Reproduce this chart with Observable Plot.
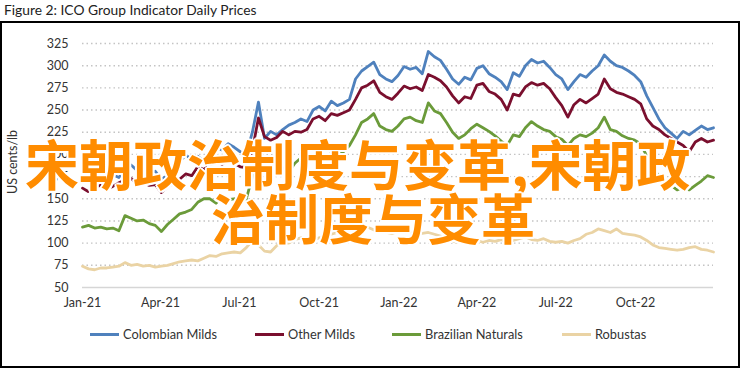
<!DOCTYPE html>
<html>
<head>
<meta charset="utf-8">
<script src="https://cdn.jsdelivr.net/npm/d3@7"></script>
<script src="https://cdn.jsdelivr.net/npm/@observablehq/plot@0.6"></script>
<style>
  html, body { margin: 0; padding: 0; background: #fff; }
  #wrap { position: relative; width: 742px; height: 369px; overflow: hidden; font-family: Lato, "Open Sans", sans-serif; }
  #box { position: absolute; left: 0; top: 21px; width: 740px; height: 347px; box-sizing: border-box; border: 2px solid #000; }
  #title { position: absolute; left: 4px; top: 1px; font-size: 13.8px; color: #222; white-space: nowrap; }
  #chart { position: absolute; left: 0; top: 0; }
  #ylab { position: absolute; left: 12px; top: 162px; transform: translate(-50%, -50%) rotate(-90deg); font-size: 12.5px; color: #333; white-space: nowrap; }
  .leg { position: absolute; top: 326px; font-size: 12.8px; color: #333; white-space: nowrap; display: flex; align-items: center; }
  .leg i { display: inline-block; width: 29px; height: 3px; margin-right: 4px; }
  .ov { position: absolute; font-family: "Noto Sans CJK SC", sans-serif; font-weight: 700; font-size: 54px; line-height: 54px; color: #FF8C00; white-space: nowrap;
        text-shadow: 2px 0 0 #fff, -2px 0 0 #fff, 0 2px 0 #fff, 0 -2px 0 #fff, 1.5px 1.5px 0 #fff, -1.5px -1.5px 0 #fff, 1.5px -1.5px 0 #fff, -1.5px 1.5px 0 #fff; }
</style>
</head>
<body>
<div id="wrap">
  <div id="title">Figure 2: ICO Group Indicator Daily Prices</div>
  <div id="box"></div>
  <div id="chart"></div>
  <div id="ylab">US cents/lb</div>
  <div id="legend"></div>
  <div class="ov" style="left:25px; top:136px;">宋朝政治制度与变革,宋朝政</div>
  <div class="ov" style="left:211px; top:190px;">治制度与变革</div>
</div>
<script>
const seriesNames = ["Colombian Milds", "Other Milds", "Brazilian Naturals", "Robustas"];
const seriesColors = ["#4F81BD", "#7A0F2E", "#6B9B3A", "#EAD3A4"];
const yTicks = [50, 75, 100, 125, 150, 175, 200, 225, 250, 275, 300, 325];
const xTicks = ["2021-01-01","2021-04-01","2021-07-01","2021-10-01","2022-01-01","2022-04-01","2022-07-01","2022-10-01"];

const dates = [
"2021-01-01","2021-01-08","2021-01-15","2021-01-22","2021-01-29","2021-02-05","2021-02-12","2021-02-19","2021-02-26",
"2021-03-05","2021-03-12","2021-03-19","2021-03-26","2021-04-02","2021-04-09","2021-04-16","2021-04-23","2021-04-30",
"2021-05-07","2021-05-14","2021-05-21","2021-05-28","2021-06-04","2021-06-11","2021-06-18","2021-06-25",
"2021-07-02","2021-07-09","2021-07-16","2021-07-23","2021-07-30","2021-08-06","2021-08-13","2021-08-20","2021-08-27",
"2021-09-03","2021-09-10","2021-09-17","2021-09-24","2021-10-01","2021-10-08","2021-10-15","2021-10-22","2021-10-29",
"2021-11-05","2021-11-12","2021-11-19","2021-11-26","2021-12-03","2021-12-10","2021-12-17","2021-12-24","2021-12-31",
"2022-01-07","2022-01-14","2022-01-21","2022-01-28","2022-02-04","2022-02-11","2022-02-18","2022-02-25",
"2022-03-04","2022-03-11","2022-03-18","2022-03-25","2022-04-01","2022-04-08","2022-04-15","2022-04-22","2022-04-29",
"2022-05-06","2022-05-13","2022-05-20","2022-05-27","2022-06-03","2022-06-10","2022-06-17","2022-06-24",
"2022-07-01","2022-07-08","2022-07-15","2022-07-22","2022-07-29","2022-08-05","2022-08-12","2022-08-19","2022-08-26",
"2022-09-02","2022-09-09","2022-09-16","2022-09-23","2022-09-30","2022-10-07","2022-10-14","2022-10-21","2022-10-28",
"2022-11-04","2022-11-11","2022-11-18","2022-11-25","2022-12-02","2022-12-09","2022-12-16","2022-12-23","2022-12-30"
];

const colombianMilds = [
174,170,173,176,172,177,174,183,188,182,185,179,181,172,176,185,192,199,195,198,192,204,207,205,212,208,
203,200,225,259,218,226,222,228,233,236,240,237,250,254,249,260,255,258,262,285,294,299,304,290,285,282,289,
299,296,298,291,316,310,306,296,285,279,287,284,297,300,291,287,282,273,292,288,300,307,303,305,298,
290,285,273,282,290,287,294,300,312,305,300,298,294,289,282,266,253,240,230,224,218,226,222,227,232,228,230
];
const otherMilds = [
162,158,163,165,161,164,168,171,173,167,168,165,166,157,163,168,172,178,176,186,183,188,192,189,193,190,
186,185,205,241,220,216,219,226,222,226,225,228,240,243,238,246,244,247,250,262,275,278,283,270,265,262,269,
277,274,276,272,290,287,283,276,266,258,265,263,278,280,271,268,262,250,268,266,276,281,278,280,274,
264,255,242,256,262,258,263,268,285,274,270,268,265,262,257,240,232,228,222,218,214,210,203,214,218,214,216
];
const brazilianNaturals = [
118,120,117,118,116,117,114,131,128,125,126,122,120,113,121,127,133,135,138,146,150,150,145,152,149,150,
146,150,175,192,185,186,181,185,180,190,196,199,198,200,197,201,198,203,210,222,236,240,246,232,228,226,232,
240,242,238,236,258,249,246,236,225,218,222,229,234,230,226,221,215,210,222,220,230,237,232,228,226,
220,217,210,218,222,220,224,230,242,228,226,221,218,216,212,198,184,176,168,165,160,163,160,165,170,176,174
];
const robustas = [
74,71,70,72,72,73,74,78,75,76,74,75,73,74,75,77,79,80,81,80,83,86,85,88,89,90,
89,95,103,98,91,90,97,101,100,104,106,105,103,106,108,110,112,111,114,116,117,118,115,113,112,111,113,
114,112,110,111,112,110,108,104,102,101,103,104,103,101,103,102,104,101,103,105,107,104,103,105,102,
101,102,100,103,105,110,112,116,114,112,116,111,110,109,107,103,98,95,94,93,92,93,95,96,93,92,90
];

const seriesValues = [colombianMilds, otherMilds, brazilianNaturals, robustas];
const data = [];
seriesNames.forEach((name, s) => {
  seriesValues[s].forEach((v, i) => data.push({series: name, date: new Date(dates[i]), value: v}));
});

const chart = Plot.plot({
  width: 742,
  height: 369,
  marginTop: 43,
  marginBottom: 82,
  marginLeft: 82,
  marginRight: 29,
  style: {fontFamily: "Lato, 'Open Sans', sans-serif", fontSize: "12.5px", color: "#333", background: "transparent", overflow: "visible"},
  x: {type: "utc", domain: [new Date("2021-01-01"), new Date("2022-12-30")]},
  y: {domain: [50, 325]},
  color: {domain: seriesNames, range: seriesColors},
  marks: [
    Plot.ruleY(yTicks.filter(d => d > 50), {stroke: "#c4c4c4", strokeWidth: 1.4, strokeDasharray: "1.5,3"}),
    Plot.ruleY([50], {stroke: "#d6d6d6", strokeWidth: 1.5}),
    Plot.axisY({ticks: yTicks, tickSize: 0, tickPadding: 14, label: null, tickFormat: d => d}),
    Plot.axisX({ticks: xTicks.map(d => new Date(d)), tickSize: 0, tickPadding: 11, label: null, tickFormat: d3.utcFormat("%b-%y")}),
    Plot.lineY(data, {x: "date", y: "value", stroke: "series", strokeWidth: 2.8, strokeLinejoin: "round"})
  ]
});
document.getElementById("chart").appendChild(chart);

const legendPos = [90, 255, 392, 562];
const legend = document.getElementById("legend");
seriesNames.forEach((name, i) => {
  const el = document.createElement("div");
  el.className = "leg";
  el.style.left = legendPos[i] + "px";
  el.innerHTML = `<i style="background:${seriesColors[i]}"></i><span>${name}</span>`;
  legend.appendChild(el);
});
</script>
</body>
</html>
